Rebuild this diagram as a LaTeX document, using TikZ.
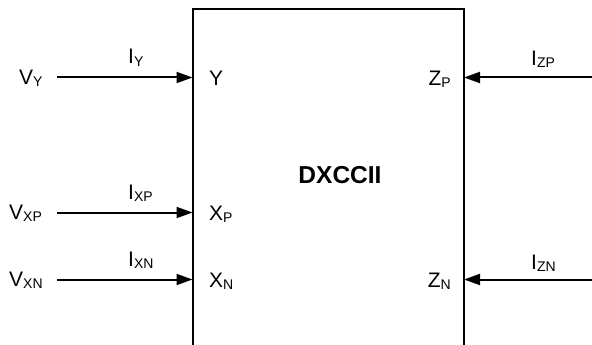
\documentclass[tikz,border=0pt]{standalone}
\usepackage{fontspec}
\setmainfont{Liberation Sans}
\usetikzlibrary{arrows.meta}
\newcommand\sbs[1]{\raisebox{-2pt}{\fontsize{14}{14}\selectfont #1}}
\begin{document}
\begin{tikzpicture}[x=1pt,y=-1pt,
  lbl/.style={inner sep=0pt,font=\fontsize{21}{21}\selectfont},
  wire/.style={line width=2pt,-{Triangle[length=16pt,width=11pt]}},
  boxline/.style={line width=2pt}]
\useasboundingbox (0,0) rectangle (592,345);
% block outline (open at the bottom)
\draw[boxline] (192.5,345) |- (464,9) -- (464,345);
\node[lbl,font=\bfseries\fontsize{24.5}{24.5}\selectfont] (title) at (340,175) {DXCCII};
% port coordinates
\coordinate (pY)  at (192.5,77.5);
\coordinate (pXP) at (192.5,212.5);
\coordinate (pXN) at (192.5,279.5);
\coordinate (pZP) at (464,77.5);
\coordinate (pZN) at (464,279.5);
% wire start points
\coordinate (sY)  at (57,77.5);
\coordinate (sXP) at (57,212.5);
\coordinate (sXN) at (57,279.5);
\coordinate (sZP) at (592,77.5);
\coordinate (sZN) at (592,279.5);
% wires
\draw[wire] (sY) -- (pY);
\draw[wire] (sXP) -- (pXP);
\draw[wire] (sXN) -- (pXN);
\draw[wire] (sZP) -- (pZP);
\draw[wire] (sZN) -- (pZN);
% voltage labels
\node[lbl,anchor=base west] (vY)  at (19,84.5) {V\sbs{Y}};
\node[lbl,anchor=base west] (vXP) at (9,219.5) {V\sbs{XP}};
\node[lbl,anchor=base west] (vXN) at (9,286.5) {V\sbs{XN}};
% current labels
\node[lbl,anchor=base west] (iY)  at (128,64) {I\sbs{Y}};
\node[lbl,anchor=base west] (iXP) at (128,199) {I\sbs{XP}};
\node[lbl,anchor=base west] (iXN) at (128,266) {I\sbs{XN}};
\node[lbl,anchor=base west] (iZP) at (531,66) {I\sbs{ZP}};
\node[lbl,anchor=base west] (iZN) at (531,269) {I\sbs{ZN}};
% port labels
\node[lbl,anchor=base west] (lY)  at (209,85.5) {Y};
\node[lbl,anchor=base west] (lXP) at (209,220) {X\sbs{P}};
\node[lbl,anchor=base west] (lXN) at (209,287) {X\sbs{N}};
\node[lbl,anchor=base east] (lZP) at (451,85.5) {Z\sbs{P}};
\node[lbl,anchor=base east] (lZN) at (451,287) {Z\sbs{N}};
\end{tikzpicture}
\end{document}
